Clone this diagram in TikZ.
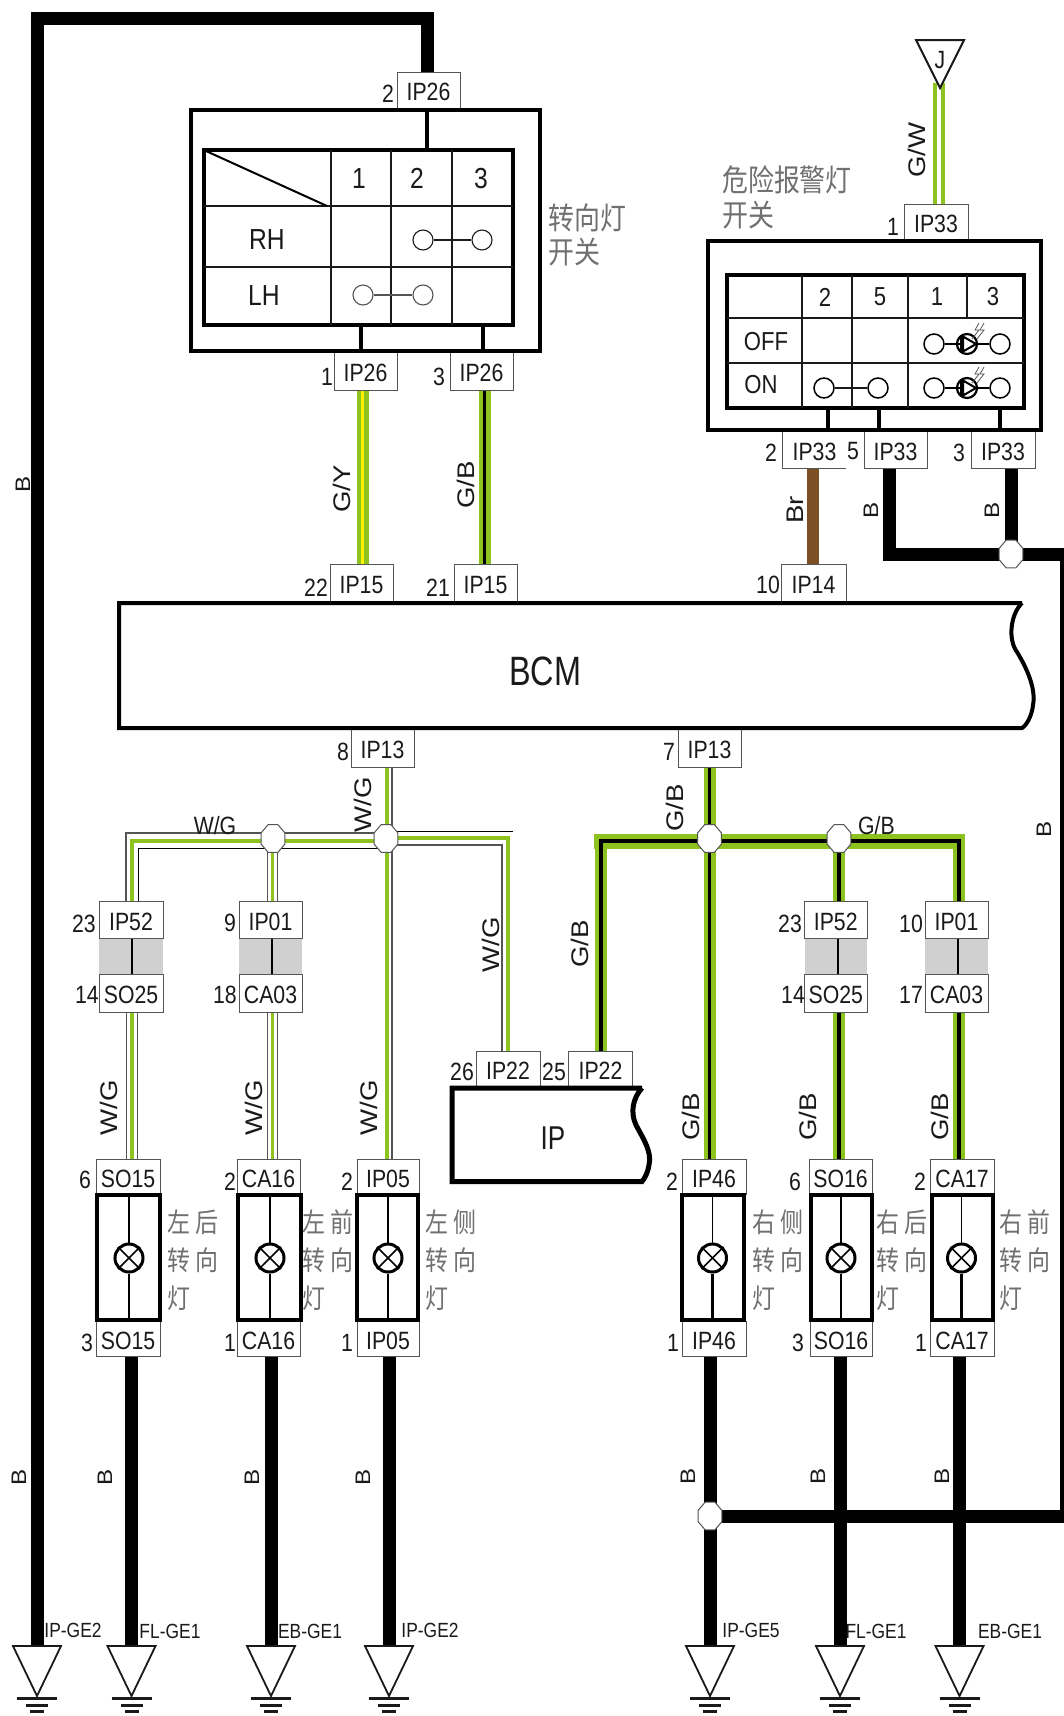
\documentclass[tikz,border=0pt]{standalone}
\usepackage{fontspec}
\setmainfont{Liberation Sans}
\newfontfamily\flab[FakeStretch=0.85]{Liberation Sans}
\newfontfamily\flabw[FakeStretch=1.15]{Liberation Sans}
\newfontfamily\fbig[FakeStretch=0.79]{Liberation Sans}
\newfontfamily\fcjk[FakeStretch=0.85]{Noto Sans CJK SC}
\usetikzlibrary{shapes.geometric,backgrounds}
\definecolor{ink}{HTML}{1A1A1A}
\definecolor{wgreen}{HTML}{8DC21F}
\definecolor{wbrown}{HTML}{7D4F24}
\definecolor{wyellow}{HTML}{FFF200}
\definecolor{edgegray}{HTML}{555555}
\definecolor{cjkgray}{HTML}{707070}
\definecolor{plug}{HTML}{D0D0D0}
\tikzset{
  cbox/.style={rectangle,draw=edgegray,line width=1,fill=white,inner sep=0,text=ink,text height=21pt,text depth=0pt,font=\flab\fontsize{25}{25}\selectfont},
  openbox/.style={rectangle,inner sep=0,text=ink,text height=21pt,text depth=0pt,font=\flab\fontsize{25}{25}\selectfont},
  outerbox/.style={rectangle,draw=black,line width=4.5,inner sep=0},
  tablebox/.style={rectangle,draw=black,line width=3.5,inner sep=0},
  lampbox/.style={rectangle,draw=black,line width=4.5,inner sep=0},
  plugbox/.style={rectangle,fill=plug,inner sep=0},
  pinlab/.style={inner sep=0,text=ink,text height=20pt,text depth=0pt,font=\flab\fontsize{25}{25}\selectfont},
  rotlab/.style={inner sep=0,rotate=90,text=ink,font=\flabw\fontsize{24}{24}\selectfont},
  rotlabs/.style={inner sep=0,rotate=90,text=ink,font=\flabw\fontsize{21}{21}\selectfont},
  gndlab/.style={inner sep=0,text=ink,font=\flab\fontsize{20.5}{20.5}\selectfont},
  tablab/.style={inner sep=0,text=ink,text height=23pt,text depth=0pt,font=\flab\fontsize{29}{29}\selectfont},
  tablabs/.style={inner sep=0,text=ink,font=\flab\fontsize{26}{26}\selectfont},
  junction/.style={regular polygon,regular polygon sides=8,draw=edgegray,line width=1,fill=white,inner sep=0,minimum size=30,xscale=.85},
  contact/.style={circle,draw=black,line width=1.5,fill=white,inner sep=0,minimum size=20},
  lamp/.style={circle,draw=black,line width=3,fill=white,inner sep=0,minimum size=28},
  grid/.style={draw=ink,line width=1.4},
  bw/.style={draw=black,line width=13},
  wg/.style={draw=edgegray,line width=12.6,postaction={draw=white,line width=10},postaction={draw=wgreen,line width=4}},
  wgm/.style={draw=edgegray,line width=11.6,postaction={draw=white,line width=9},postaction={draw=wgreen,line width=3.6}},
  gbw/.style={draw=wgreen,line width=4.25,double=black,double distance=3.5},
  cjklab/.style={inner sep=0,anchor=west,align=left,text=cjkgray},
}
\newcommand\bx[7][cbox]{%
  \pgfmathsetmacro\bxw{#5-#3}\pgfmathsetmacro\bxh{#6-#4}%
  \pgfmathsetmacro\bxx{(#3+#5)/2}\pgfmathsetmacro\bxy{(#4+#6)/2}%
  \node[#1,minimum width=\bxw pt,minimum height=\bxh pt] (#2) at (\bxx,\bxy) {#7};}
\newcommand\gnd[2]{%
  \coordinate (#1) at (#2,1646);
  \draw[draw=ink,line width=1.8,fill=white,line join=miter] ({#2-24},1646) -- ({#2+24},1646) -- (#2,1696) -- cycle;
  \draw[draw=ink,line width=3] ({#2-20},1698) -- ({#2+20},1698);
  \draw[draw=ink,line width=3] ({#2-11},1705) -- ({#2+11},1705);
  \draw[draw=ink,line width=3] ({#2-7},1711.5) -- ({#2+7},1711.5);}
\begin{document}
\begin{tikzpicture}[x=1pt,y=-1pt]
\useasboundingbox (0,0) rectangle (1064,1716);

% connectors
\bx{topIPa}{397}{72}{460}{108}{IP26}
\bx{swIPa}{334}{351}{397}{390}{IP26}
\bx{swIPb}{450}{351}{513}{390}{IP26}
\bx{IPfa}{330}{564}{393}{602}{IP15}
\bx{IPfb}{454}{564}{517}{602}{IP15}
\bx{IPtop}{904}{204}{968}{240}{IP33}
\bx[openbox]{IPta}{783}{431}{846}{468}{IP33}
\bx{IPtb}{864}{431}{927}{468}{IP33}
\bx{IPtc}{971}{431}{1035}{468}{IP33}
\bx{IPfour}{781}{564}{846}{602}{IP14}
\bx{IPma}{351}{728}{414}{767}{IP13}
\bx{IPmb}{678}{728}{741}{767}{IP13}
\bx[plugbox]{plugA}{99}{938}{163}{974}{}
\bx[plugbox]{plugB}{239}{938}{302}{974}{}
\bx[plugbox]{plugC}{804.5}{938}{867}{974}{}
\bx[plugbox]{plugD}{925}{938}{988}{974}{}
\bx{IPfl}{99}{901}{163}{938}{IP52}
\bx{SOfl}{99}{974}{163}{1012}{SO25}
\bx{IPol}{239}{901}{302}{938}{IP01}
\bx{CAol}{239}{974}{302}{1012}{CA03}
\bx{IPfr}{804.5}{901}{867}{938}{IP52}
\bx{SOfr}{804.5}{974}{867}{1012}{SO25}
\bx{IPor}{925}{901}{988}{938}{IP01}
\bx{CAor}{925}{974}{988}{1012}{CA03}
\bx{IPwa}{476}{1051}{540}{1086}{IP22}
\bx{IPwb}{568.5}{1051}{632.5}{1086}{IP22}
\bx{SOa}{96}{1159}{160}{1194}{SO15}
\bx{CAa}{237}{1159}{300}{1194}{CA16}
\bx{IPva}{357}{1159}{419}{1194}{IP05}
\bx{IPxa}{682}{1159}{746}{1194}{IP46}
\bx{SOra}{809}{1159}{872}{1194}{SO16}
\bx{CAra}{930}{1159}{994}{1194}{CA17}
\bx{SOb}{96}{1321}{160}{1356}{SO15}
\bx{CAb}{237}{1321}{300}{1356}{CA16}
\bx{IPvb}{357}{1321}{419}{1356}{IP05}
\bx{IPxb}{682}{1321}{746}{1356}{IP46}
\bx{SOrb}{810}{1321}{872}{1356}{SO16}
\bx{CArb}{930}{1321}{994}{1356}{CA17}
\draw[draw=edgegray,line width=1] (IPta.north west) -- (IPta.south west) -- (IPta.south east);

% plug centre lines
\draw[draw=black,line width=2.2] (IPfl.south -| 132,0) -- (SOfl.north -| 132,0);
\draw[draw=black,line width=2.2] (IPol.south -| 272,0) -- (CAol.north -| 272,0);
\draw[draw=black,line width=2.2] (IPfr.south -| 838,0) -- (SOfr.north -| 838,0);
\draw[draw=black,line width=2.2] (IPor.south -| 958,0) -- (CAor.north -| 958,0);

% junctions
\node[junction] (ja) at (273,838.5) {};
\node[junction] (jb) at (386,838.5) {};
\node[junction] (jc) at (709.5,838.5) {};
\node[junction] (jd) at (839,838.5) {};
\node[junction] (je) at (1011,554) {};
\node[junction] (jf) at (710,1516) {};

% grounds
\gnd{gna}{37}
\gnd{gnb}{131.5}
\gnd{gnc}{271}
\gnd{gnd}{389}
\gnd{gne}{710}
\gnd{gnf}{840}
\gnd{gng}{959.5}

\begin{pgfonlayer}{background}
\fill[white] (0,0) rectangle (1064,1716);
% black wires
\draw[bw] (topIPa.north -| 427,0) -- (427,18.5) -- (37,18.5) -- (gna);
\draw[bw] (IPtb.south -| 889,0) -- (889,554) -- (je.center) -- (1066.5,554) -- (1066.5,1516) -- (jf.center);
\draw[bw] (IPtc.south -| 1011,0) -- (je.center);
\draw[bw] (SOb.south -| gnb) -- (gnb);
\draw[bw] (CAb.south -| gnc) -- (gnc);
\draw[bw] (IPvb.south -| gnd) -- (gnd);
\draw[bw] (IPxb.south -| jf) -- (jf.center) -- (gne);
\draw[bw] (SOrb.south -| gnf) -- (gnf);
\draw[bw] (CArb.south -| gng) -- (gng);
% brown
\draw[draw=wbrown,line width=12] (IPta.south -| 813,0) -- (IPfour.north -| 813,0);
% turn switch wires
\draw[draw=wgreen,line width=4.25,double=wyellow,double distance=3.5] (swIPa.south -| 362.5,0) -- (IPfa.north -| 362.5,0);
\draw[gbw] (swIPb.south -| 484.5,0) -- (IPfb.north -| 484.5,0);
% G/W
\coordinate (japex) at (939,83);
\draw[draw=wgreen,line width=4,double=white,double distance=4] (japex) -- (IPtop.north -| japex);
% W/G wires
\draw[wg] (SOfl.south -| 132,0) -- (SOa.north -| 132,0);
\draw[wgm] (ja.center -| 272.5,0) -- (IPol.north -| 272.5,0);
\draw[wgm] (CAol.south -| 272.5,0) -- (CAa.north -| 272.5,0);
\draw[draw=edgegray,line width=1.2] (IPfl.north -| 126,0) -- (126,833) -- (jb.center |- 0,833);
\draw[draw=wgreen,line width=4.3] (IPfl.north -| 132,0) -- (132,841) -- (jb.center |- 0,841);
\draw[draw=black,line width=1] (IPfl.north -| 138,0) -- (138,848) -- (jb.center |- 0,848);
\draw[draw=black,line width=1] (jb.center |- 0,831) -- (513,831);
\draw[draw=wgreen,line width=4] (jb.center |- 0,838) -- (508,838) -- (IPwa.north -| 508,0);
\draw[draw=edgegray,line width=1.2] (jb.center |- 0,845) -- (502,845) -- (IPwa.north -| 502,0);
\draw[draw=wgreen,line width=4.3] (IPma.south -| 387,0) -- (IPva.north -| 387,0);
\draw[draw=edgegray,line width=1.2] (IPma.south -| 392,0) -- (IPva.north -| 392,0);
% G/B wires
\draw[draw=wgreen,line width=15] (594,841) -- (965,841);
\draw[draw=wgreen,line width=12] (IPwb.north -| 600.5,0) -- (600.5,835);
\draw[draw=wgreen,line width=11.5] (IPor.north -| 959,0) -- (959,835);
\draw[draw=black,line width=4] (IPwb.north -| 600.5,0) -- (600.5,841) -- (959,841) -- (IPor.north -| 959,0);
\draw[gbw] (IPmb.south -| jc) -- (jc.center) -- (IPxa.north -| jc);
\draw[gbw] (jd.center) -- (IPfr.north -| jd);
\draw[gbw] (SOfr.south -| jd) -- (SOra.north -| jd);
\draw[gbw] (CAor.south -| 959,0) -- (CAra.north -| 959,0);
\end{pgfonlayer}

% J triangle
\draw[draw=ink,line width=2,fill=white] (916,40) -- (964,40) -- (940,88) -- cycle;
\node[pinlab] (jlab) at (940,58) {J};

% turn switch
\bx[outerbox]{swa}{191}{110}{540}{351}{}
\bx[tablebox]{tba}{204}{150}{513}{325}{}
\foreach \x in {331,391,452} \draw[grid] (\x,150) -- (\x,325);
\foreach \y in {206,267} \draw[grid] (204,\y) -- (513,\y);
\draw[draw=black,line width=2] (206,151) -- (327,206);
\draw[draw=black,line width=3.5] (swa.north -| 427,0) -- (tba.north -| 427,0);
\draw[draw=black,line width=3.5] (tba.south -| 361,0) -- (swa.south -| 361,0);
\draw[draw=black,line width=3.5] (tba.south -| 483,0) -- (swa.south -| 483,0);
\node[tablab] (hdA) at (359,177) {1};
\node[tablab] (hdB) at (417,177) {2};
\node[tablab] (hdC) at (481,177) {3};
\node[tablab] (rh) at (267,238) {RH};
\node[tablab] (lh) at (264,294) {LH};
\node[contact,draw=ink,line width=1.1] (cra) at (423,240) {};
\node[contact,draw=ink,line width=1.1] (crb) at (482,240) {};
\node[contact,draw=edgegray,line width=1.1] (cla) at (363,295) {};
\node[contact,draw=edgegray,line width=1.1] (clb) at (423,295) {};
\draw[draw=ink,line width=1.1] (cra) -- (crb);
\draw[draw=edgegray,line width=1.4] (cla) -- (clb);

% hazard switch
\bx[outerbox]{swb}{708}{241}{1041}{430}{}
\bx[tablebox]{tbb}{727}{275}{1024}{408}{}
\foreach \x in {802,852,908} \draw[grid] (\x,275) -- (\x,408);
\draw[grid] (967,275) -- (967,318);
\foreach \y in {318,363} \draw[grid] (727,\y) -- (1024,\y);
\draw[draw=black,line width=3.5] (tbb.south -| 828,0) -- (swb.south -| 828,0);
\draw[draw=black,line width=3.5] (tbb.south -| 879,0) -- (swb.south -| 879,0);
\draw[draw=black,line width=3.5] (tbb.south -| 1000,0) -- (swb.south -| 1000,0);
\node[tablabs] (hzA) at (825,297) {2};
\node[tablabs] (hzB) at (880,297) {5};
\node[tablabs] (hzC) at (937,297) {1};
\node[tablabs] (hzD) at (993,297) {3};
\node[tablabs] (off) at (766,342) {OFF};
\node[tablabs] (on) at (761,385) {ON};
\node[contact] (cona) at (824,388) {};
\node[contact] (conb) at (878,388) {};
\draw[draw=ink,line width=1.4] (cona) -- (conb);
\foreach \r/\y in {a/344,b/388}{
  \node[contact] (la\r) at (934,\y) {};
  \node[contact] (lc\r) at (1000,\y) {};
  \node[contact,line width=2.2] (lb\r) at (967,\y) {};
  \draw[draw=black,line width=2.6] (la\r) -- (961,\y);
  \draw[draw=black,line width=2.6] (976,\y) -- (lc\r);
  \draw[draw=black,line width=2] (961,{\y-9}) -- (961,{\y+9});
  \draw[draw=black,line width=2,fill=white] (963,{\y-7.5}) -- (976,\y) -- (963,{\y+7.5}) -- cycle;
  \draw[draw=edgegray,line width=.8] (979,{\y-21}) -- (975,{\y-14}) -- (979,{\y-14}) -- (972,{\y-5});
  \draw[draw=edgegray,line width=.8] (984,{\y-21}) -- (980,{\y-14}) -- (984,{\y-14}) -- (977,{\y-5});
}

% BCM and IP blocks
\draw[draw=black,line width=4,line join=miter] (1022,603) -- (119,603) -- (119,728) -- (1022,728)
  .. controls (1027,725) and (1032,715) .. (1033,705)
  .. controls (1036,690) and (1028,670) .. (1017,652)
  .. controls (1008,640) and (1010,615) .. (1022,603);
\node[inner sep=0,text=ink,font=\fbig\fontsize{41}{41}\selectfont] (bcm) at (545,671) {BCM};
\draw[draw=black,line width=5,line join=miter] (642,1088) -- (452,1088) -- (452,1181.5) -- (642,1181.5)
  .. controls (645,1178) and (648,1172) .. (649,1165)
  .. controls (652,1152) and (644,1140) .. (636,1125)
  .. controls (630,1112) and (633,1098) .. (642,1088);
\node[inner sep=0,text=ink,font=\fbig\fontsize{33}{33}\selectfont] (ipblock) at (553,1138) {IP};

% lamps
\foreach \n/\xa/\xb/\xc in {1/97/160/129,2/238/301/270,3/357/418/388,4/682/744/712.5,5/811/872/841,6/932/993/961.5}{
  \bx[lampbox]{lb\n}{\xa}{1195}{\xb}{1320}{}
  \node[lamp] (lp\n) at (\xc,1258) {};
  \draw[draw=black,line width=1.8] (lb\n.north -| lp\n) -- (lp\n);
  \draw[draw=black,line width=2.6] (lp\n) -- (lb\n.south -| lp\n);
  \draw[draw=black,line width=1.6] (lp\n.45) -- (lp\n.225);
  \draw[draw=black,line width=1.6] (lp\n.135) -- (lp\n.315);
}

% pin numbers
\foreach \x/\y/\t [count=\i] in {388/92/2,327/375/1,439/375/3,893/225/1,771/451/2,853/449/5,959/451/3,316/586/22,438/586/21,768/583/10,343/750/8,669/750/7,84/922/23,87/993/14,230/921/9,225/993/18,790/922/23,793/993/14,911/922/10,911/993/17,462/1070/26,554/1070/25,85/1178/6,230/1180/2,347/1180/2,672/1180/2,795/1180/6,920/1180/2,87/1341/3,230/1341/1,347/1341/1,673/1341/1,798/1341/3,921/1341/1}
  \node[pinlab] (pin\i) at (\x,\y) {\t};

% wire colour labels
\foreach \x/\y/\t [count=\i] in {342/489/G\slash Y,466/485/G\slash B,917/150/G\slash W,795/510/Br,363/805/W\slash G,491/945/W\slash G,675/808/G\slash B,580/944/G\slash B,109/1108/W\slash G,254/1108/W\slash G,369/1108/W\slash G,691/1117/G\slash B,808/1117/G\slash B,940/1117/G\slash B}
  \node[rotlab] (wl\i) at (\x,\y) {\t};
\foreach \x/\y [count=\i] in {871/510,992/510,23/484,1044/829,19/1477,105/1477,252/1477,363/1477,688/1476,818/1476,942/1476}
  \node[rotlabs] (bl\i) at (\x,\y) {B};
\node[pinlab] (hlA) at (215,824) {W/G};
\node[pinlab] (hlB) at (876.5,824) {G/B};

% ground labels
\foreach \x/\y/\t [count=\i] in {73/1630/IP-GE2,170/1631/FL-GE1,310/1631/EB-GE1,430/1630/IP-GE2,751/1630/IP-GE5,876/1631/FL-GE1,1010/1631/EB-GE1}
  \node[gndlab] (gl\i) at (\x,\y) {\t};

% Chinese labels
\node[cjklab,font=\fcjk\fontsize{30.5}{34}\selectfont] (cna) at (548,235) {转向灯\\开关};
\node[cjklab,font=\fcjk\fontsize{30.5}{35}\selectfont] (cnb) at (722,197.5) {危险报警灯\\开关};
\foreach \x/\a/\b [count=\i] in {167/左/后,302/左/前,425/左/侧,752/右/侧,876/右/后,999/右/前}
  \node[cjklab,font=\fcjk\fontsize{27}{38}\selectfont] (cl\i) at (\x,1260) {\a\hspace{5pt}\b\\转\hspace{5pt}向\\灯};
\end{tikzpicture}
\end{document}
